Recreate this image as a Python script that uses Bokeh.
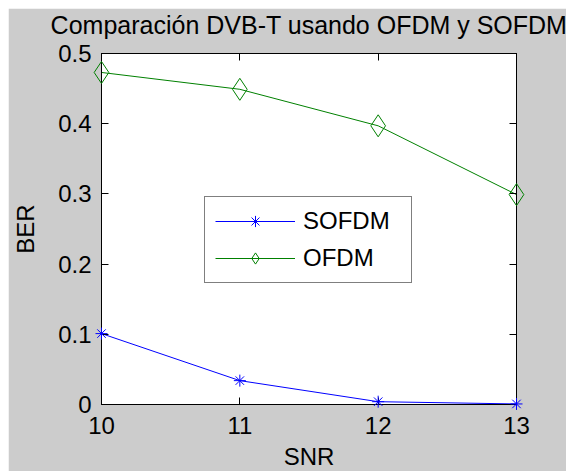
from bokeh.plotting import figure
from bokeh.models import Range1d, LinearAxis, FixedTicker, Legend, LegendItem
from bokeh.core.properties import value
from bokeh.embed import file_html
from bokeh.resources import INLINE

snr = [10, 11, 12, 13]
ber_sofdm = [0.101, 0.034, 0.004, 0.0008]
ber_ofdm = [0.473, 0.449, 0.397, 0.299]
x_ticks = [10, 11, 12, 13]
y_ticks = [0, 0.1, 0.2, 0.3, 0.4, 0.5]
y_tick_labels = ["0", "0.1", "0.2", "0.3", "0.4", "0.5"]
title_text = "Comparación DVB-T usando OFDM y SOFDM"
x_label = "SNR"
y_label = "BER"

FONT = "Liberation Sans"
W, H = 558, 463
LEFT, TOP = 93, 45
FW, FH = 415, 351

p = figure(width=W, height=H, output_backend="svg", toolbar_location=None,
           x_range=Range1d(10, 13), y_range=Range1d(0, 0.5),
           min_border_left=LEFT, min_border_right=W - LEFT - FW,
           min_border_top=TOP, min_border_bottom=H - TOP - FH,
           x_axis_label=x_label, y_axis_label=y_label)
p.margin = (8, 0, 0, 8)
p.frame_width = FW
p.frame_height = FH
p.border_fill_color = "#cccccc"
p.background_fill_color = "white"
p.outline_line_color = "black"
p.grid.visible = False

overrides = {t: l for t, l in zip(y_ticks, y_tick_labels)}

def style_axis(ax, labels=True):
    ax.axis_line_color = "black"
    ax.major_tick_line_color = "black"
    ax.major_tick_in = 7
    ax.major_tick_out = 0
    ax.minor_tick_line_color = None
    ax.major_label_text_font = FONT
    ax.axis_label_text_font = FONT
    ax.axis_label_text_font_style = "normal"
    ax.axis_label_text_color = "black"
    if labels:
        ax.major_label_text_color = "black"
        ax.major_label_text_font_size = "24px"
        ax.axis_label_text_font_size = "24px"
    else:
        ax.major_label_text_color = None
        ax.major_label_text_font_size = "1px"
        ax.major_label_standoff = 0

p.xaxis.ticker = FixedTicker(ticks=x_ticks)
p.yaxis.ticker = FixedTicker(ticks=y_ticks)
p.yaxis.major_label_overrides = overrides
style_axis(p.xaxis[0])
style_axis(p.yaxis[0])
p.xaxis.major_label_standoff = 12
p.xaxis.axis_label_standoff = 6
p.yaxis.major_label_standoff = 10
p.yaxis.axis_label_standoff = 16

right_ax = LinearAxis(ticker=FixedTicker(ticks=y_ticks))
top_ax = LinearAxis(ticker=FixedTicker(ticks=x_ticks))
style_axis(right_ax, labels=False)
style_axis(top_ax, labels=False)
p.add_layout(right_ax, "right")
p.add_layout(top_ax, "above")

# title drawn as an unclipped text glyph centred over the axes
p.text(x=[(x_ticks[0] + x_ticks[-1]) / 2], y=[y_ticks[-1]], text=[title_text],
       y_offset=-29, text_align="center", text_baseline="alphabetic",
       text_font=value(FONT), text_font_size="25px", text_color="black",
       level="overlay")

blue = "#0000ff"
green = "#008000"
l1 = p.line(snr, ber_sofdm, line_color=blue, line_width=1)
m1 = p.scatter(snr, ber_sofdm, marker="asterisk", size=12, line_color=blue,
               line_width=1, level="overlay")
l2 = p.line(snr, ber_ofdm, line_color=green, line_width=1)
m2 = p.scatter(snr, ber_ofdm, marker="diamond", size=22, line_color=green,
               fill_color=None, line_width=1, level="overlay")

legend = Legend(items=[LegendItem(label="SOFDM", renderers=[l1, m1]),
                       LegendItem(label="OFDM", renderers=[l2, m2])],
                location=(103, 121), glyph_width=80, glyph_height=28,
                spacing=9, padding=10, label_standoff=8, label_width=98,
                label_text_font=FONT, label_text_font_size="24px",
                label_text_color="black", border_line_color="black",
                border_line_width=1, background_fill_color="white",
                background_fill_alpha=1.0, margin=0)
p.add_layout(legend, "center")

open("out.html", "w").write(file_html(p, INLINE))
